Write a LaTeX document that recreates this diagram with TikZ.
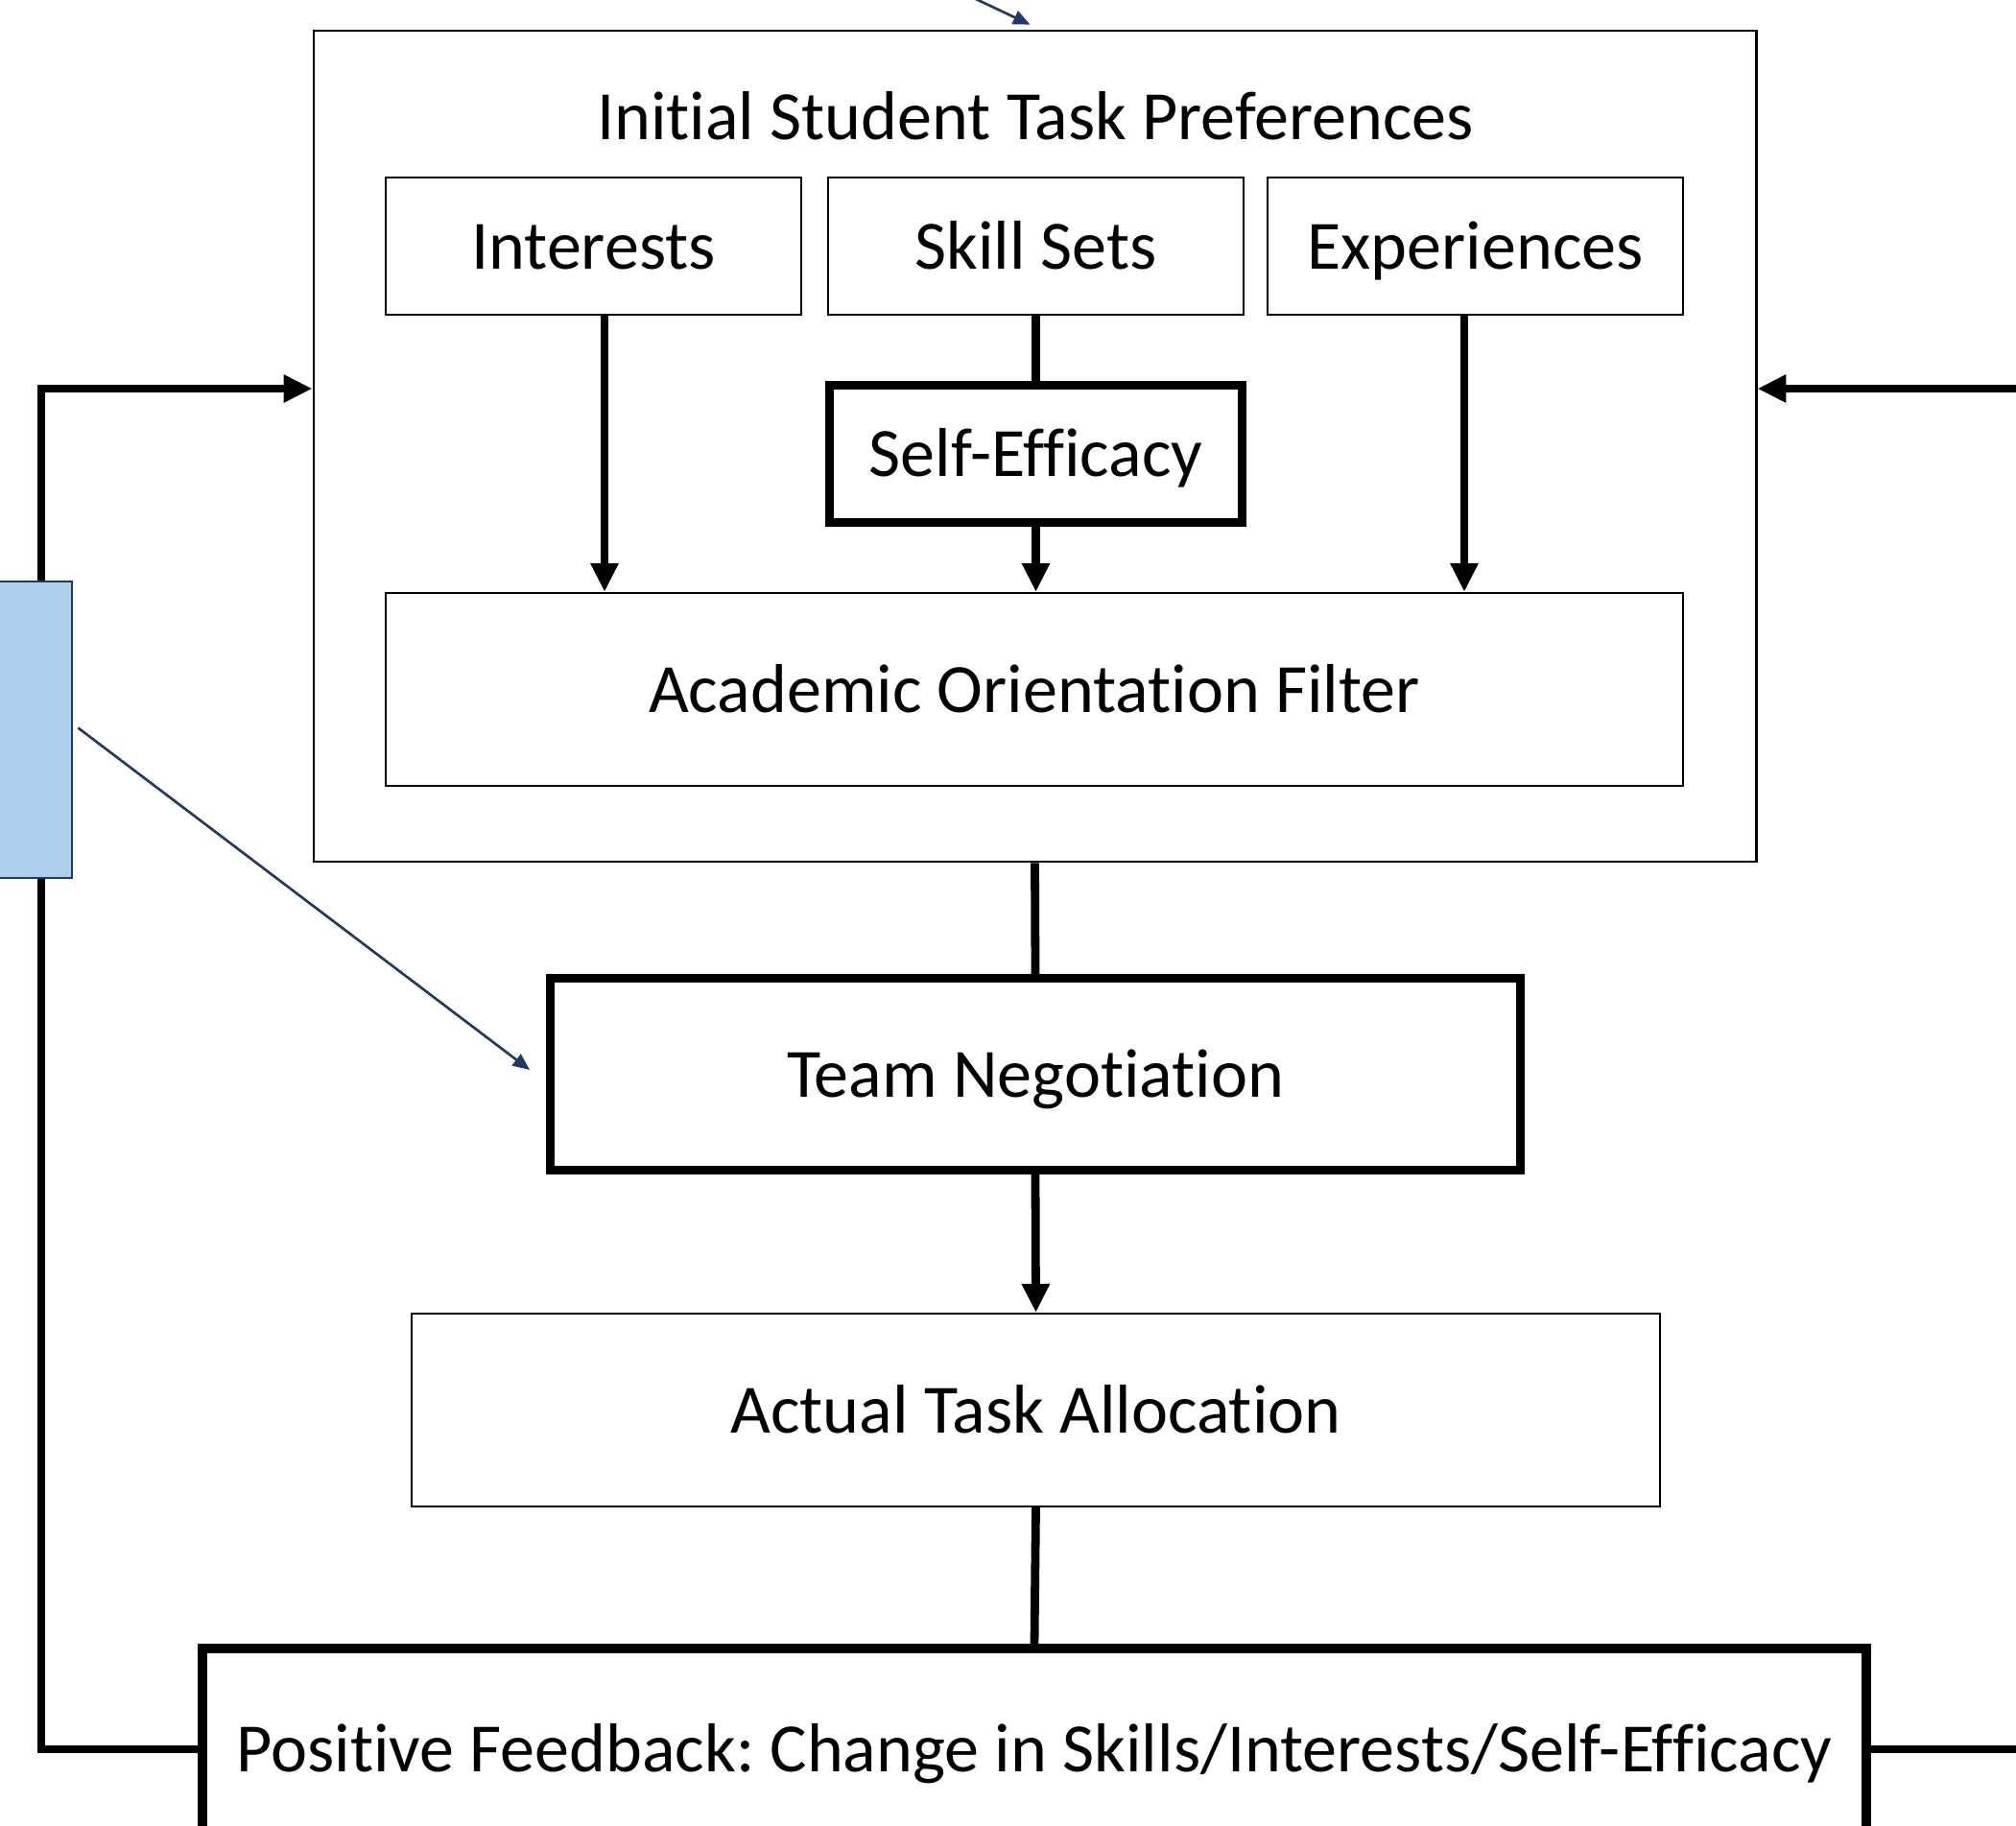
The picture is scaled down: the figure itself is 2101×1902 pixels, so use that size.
\documentclass[tikz,border=0pt]{standalone}
\usepackage{fontspec}
\setmainfont[Ligatures=NoCommon]{Carlito}
\usetikzlibrary{arrows.meta}

\definecolor{notefill}{HTML}{AECFEC}
\definecolor{notenavy}{HTML}{1F3864}

\begin{document}
\frenchspacing
\begin{tikzpicture}[x=0.01cm, y=-0.01cm,
    font=\fontsize{20.5}{24}\selectfont,
    box/.style={draw, line width=0.6pt, inner sep=0pt, text height=15pt, text depth=1.5pt},
    boldbox/.style={draw, line width=2.6pt, inner sep=0pt, text height=15pt, text depth=1.5pt},
    flow/.style={line width=2.5pt},
    arrow/.style={flow, -{Triangle[length=8.5pt,width=7.8pt]}},
    note/.style={draw=notenavy, line width=0.75pt, -{Triangle[length=5pt,width=4.2pt]}}]
    \useasboundingbox (0,0) rectangle (2101,1902);

    % Define the preferences frame and its title
    \node[box, minimum width=15.03cm, minimum height=8.66cm] (prefs) at (1078.5,465) {};
    \node (title) at (1079,121) {Initial Student Task Preferences};

    % Define the three inputs
    \node[box, minimum width=4.33cm, minimum height=1.43cm] (interests) at (618.5,256.5) {Interests};
    \node[box, minimum width=4.33cm, minimum height=1.43cm] (skills) at (1079.5,256.5) {Skill Sets};
    \node[box, minimum width=4.33cm, minimum height=1.43cm] (experiences) at (1537.5,256.5) {Experiences};

    \node[boldbox, minimum width=4.30cm, minimum height=1.43cm] (efficacy) at (1079.5,473) {Self-Efficacy};
    \node[box, minimum width=13.52cm, minimum height=2.01cm] (filter) at (1078,718.5) {Academic Orientation Filter};

    % Define the steps below the frame
    \node[boldbox, minimum width=10.10cm, minimum height=2.00cm] (team) at (1079,1119.5) {Team Negotiation};
    \node[box, minimum width=13.01cm, minimum height=2.01cm] (allocation) at (1079.5,1469.5) {Actual Task Allocation};
    \node[boldbox, minimum width=17.33cm, minimum height=2.10cm] (feedback) at (1078,1823) {Positive Feedback: Change in Skills/Interests/Self-Efficacy};

    % Inputs into the filter
    \draw[arrow] ([xshift=0.115cm]interests.south) -- ([xshift=0.115cm]interests.south |- filter.north);
    \draw[flow] (skills.south) -- (efficacy.north);
    \draw[arrow] (efficacy.south) -- (efficacy.south |- filter.north);
    \draw[arrow] ([xshift=-0.115cm]experiences.south) -- ([xshift=-0.115cm]experiences.south |- filter.north);

    % Main flow downwards
    \draw[flow] (prefs.south) -- (team.north);
    \draw[arrow] (team.south) -- (allocation.north);
    \draw[flow] (allocation.south) -- (feedback.north);

    % Feedback loop back into the preferences
    \coordinate (loop-left) at (43,405);
    \coordinate (loop-right) at (2110,405);
    \coordinate (feedback-out) at (2110,1823);
    \draw[arrow] (feedback.west) -| (loop-left) -- (prefs.west |- loop-left);
    \draw[arrow] (loop-right) -- (prefs.east |- loop-right);
    \draw[flow] (feedback.east) -- (feedback-out);

    % Side note and its pointers
    \node[draw=notenavy, fill=notefill, line width=0.75pt, minimum width=0.85cm, minimum height=3.09cm] (note-box) at (32.5,760.5) {};
    \draw[note] ([xshift=0.05cm,yshift=0.02cm]note-box.east) -- ([xshift=-0.17cm,yshift=0.045cm]team.west);
    \coordinate (note-top) at (960,-28);
    \draw[note] (note-top) -- ([xshift=-0.05cm,yshift=0.05cm]prefs.north);
\end{tikzpicture}
\end{document}
